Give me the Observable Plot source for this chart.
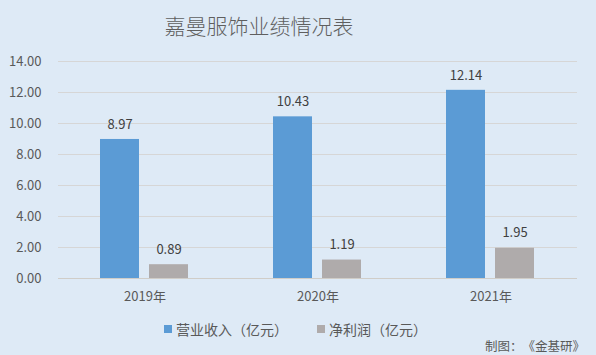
<!DOCTYPE html>
<html><head><meta charset="utf-8">
<script src="https://cdn.jsdelivr.net/npm/d3@7"></script>
<script src="https://cdn.jsdelivr.net/npm/@observablehq/plot@0.6"></script>
<style>
html,body{margin:0;padding:0;}
body{width:596px;height:355px;background:#deeaf6;position:relative;overflow:hidden;font-family:"Noto Sans CJK SC","Noto Sans",sans-serif;color:#595959;text-spacing-trim:space-all;}
#title{position:absolute;top:10px;left:0;width:518px;text-align:center;font-size:21px;line-height:30px;color:#5f5f5f;font-weight:300;}
#chart{position:absolute;top:45px;left:0;}
.leg{position:absolute;top:320px;font-size:14px;line-height:18px;color:#595959;display:flex;align-items:center;white-space:nowrap;}
.sw{width:8px;height:8px;margin-right:4px;display:inline-block;}
#caption{position:absolute;right:11px;top:337px;font-size:12.5px;line-height:18px;color:#595959;}
</style></head>
<body>
<div id="title">嘉曼服饰业绩情况表</div>
<div id="chart"></div>
<div id="legend"></div>
<div id="caption">制图：《金基研》</div>
<script>
const years = ["2019年", "2020年", "2021年"];
const series = ["营业收入（亿元）", "净利润（亿元）"];
const revenue = [8.97, 10.43, 12.14];
const profit = [0.89, 1.19, 1.95];
const yTicks = [0, 2, 4, 6, 8, 10, 12, 14];
const colors = ["#5b9bd5", "#afabab"];

const data = years.flatMap((y, i) => [
  {year: y, s: series[0], v: revenue[i]},
  {year: y, s: series[1], v: profit[i]}
]);

const chart = Plot.plot({
  width: 596, height: 270,
  marginLeft: 58, marginRight: 19, marginTop: 16, marginBottom: 37,
  style: {background: "transparent", fontFamily: '"Noto Sans CJK SC","Noto Sans",sans-serif', fontSize: "13px", color: "#595959"},
  fx: {domain: years, padding: 0, label: null, tickSize: 0, tickPadding: 13, axis: "bottom"},
  x: {domain: series, paddingInner: 0.204, paddingOuter: 0.867, axis: null},
  y: {domain: [0, 14], ticks: yTicks, tickFormat: d => d.toFixed(2), label: null, tickSize: 0, tickPadding: 17},
  color: {domain: series, range: colors},
  marks: [
    Plot.gridY(yTicks, {stroke: "#d6d6d6", strokeOpacity: 1}),
    Plot.barY(data, {fx: "year", x: "s", y: "v", fill: "s"}),
    Plot.text(data, {fx: "year", x: "s", y: "v", text: d => d.v.toFixed(2), dy: -15, fill: "#404040", fontSize: 13}),
    Plot.ruleY([0], {stroke: "#d0cdc8"})
  ]
});
document.getElementById("chart").appendChild(chart);

const lefts = [164, 317];
const leg = document.getElementById("legend");
series.forEach((s, i) => {
  const d = document.createElement("div");
  d.className = "leg";
  d.style.left = lefts[i] + "px";
  d.innerHTML = `<span class="sw" style="background:${colors[i]}"></span><span>${s}</span>`;
  leg.appendChild(d);
});
</script>
</body></html>
